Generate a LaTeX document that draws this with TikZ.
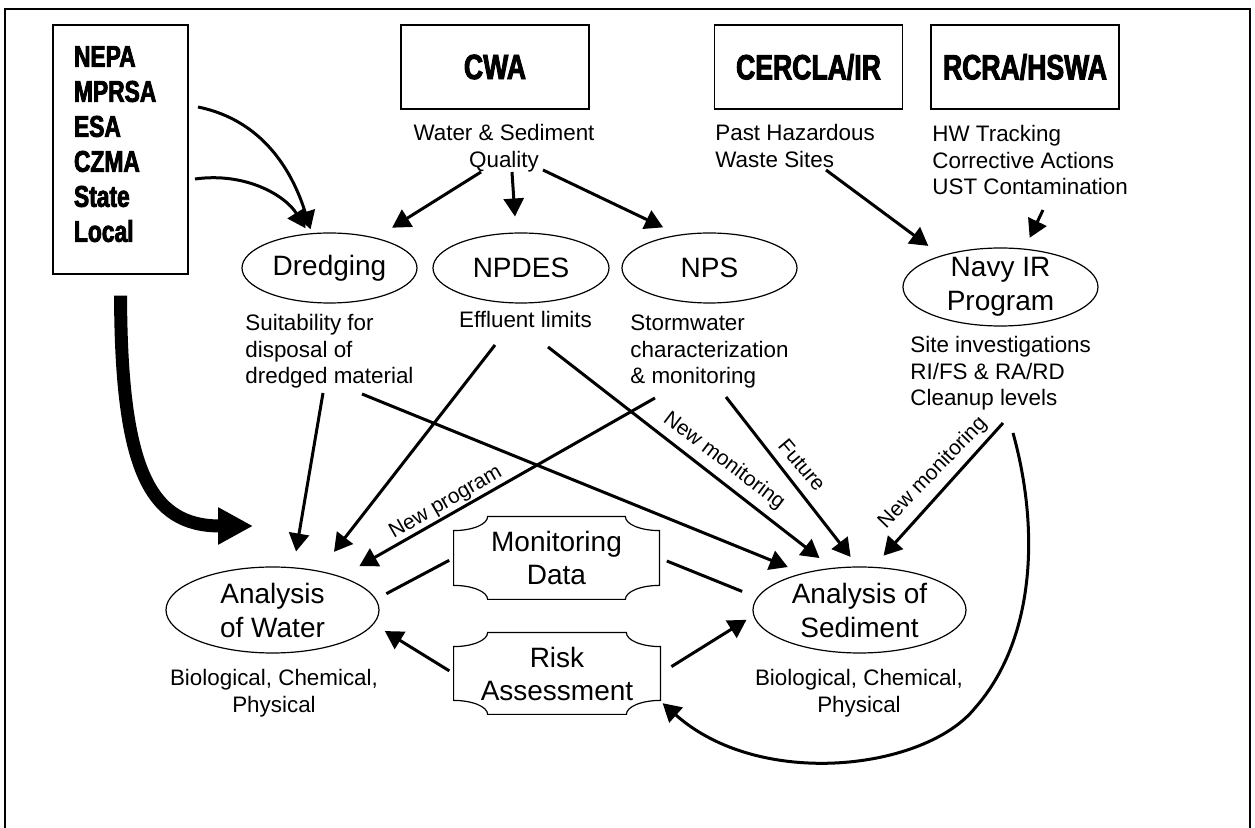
\documentclass[tikz,border=0pt]{standalone}
\usepackage{fontspec}
\setmainfont{Liberation Sans}
\newfontfamily\hfont[FakeStretch=0.76,FakeBold=2.6]{Liberation Sans}
\usetikzlibrary{arrows.meta,shapes.geometric}
\newcommand\fs{\rule{0pt}{8.2pt}}
\newcommand\cutframe[1]{\draw[line width=0.6pt] ([yshift=-7pt]#1.north west) arc[start angle=-90,end angle=0,x radius=17pt,y radius=7pt] -- ([xshift=-17pt]#1.north east) arc[start angle=180,end angle=270,x radius=17pt,y radius=7pt] -- ([yshift=7pt]#1.south east) arc[start angle=90,end angle=180,x radius=17pt,y radius=7pt] -- ([xshift=17pt]#1.south west) arc[start angle=0,end angle=90,x radius=17pt,y radius=7pt] -- cycle;}
\begin{document}
\begin{tikzpicture}[x=0.5pt,y=-0.5pt,
  arr/.style={line width=1.5pt,-{Triangle[length=9pt,width=10pt]}},
  plain/.style={line width=1.5pt},
  hbox/.style={draw,line width=0.6pt,minimum width=94pt,minimum height=42pt,inner sep=0pt,font=\hfont\bfseries\fontsize{17.5}{21}\selectfont},
  ell/.style={draw,ellipse,line width=0.6pt,inner sep=0pt,align=center,font=\fontsize{14}{17}\selectfont},
  txt/.style={inner sep=0pt,font=\fontsize{11.2}{13.4}\selectfont},
  lab/.style={inner sep=0pt,font=\fontsize{10.5}{12}\selectfont},
  cut/.style={inner sep=0pt,minimum width=102.5pt,minimum height=41pt,align=center,font=\fontsize{14}{16.5}\selectfont}
]
\useasboundingbox (0,0) rectangle (1255,828);
\draw[line width=1.25pt] (5,832) -- (5,9) -- (1250,9) -- (1250,832);

% boxes
\node[draw,line width=0.6pt,inner xsep=10.5pt,inner ysep=0pt,text width=46.5pt,minimum height=124.5pt,align=left,font=\hfont\bfseries\fontsize{15}{17.5}\selectfont] (acts) at (120.5,149.5) {NEPA\\MPRSA\\ESA\\CZMA\\State\\Local\rule[-5.5pt]{0pt}{5.5pt}};
\node[hbox] (cwa) at (495,67) {CWA};
\node[hbox] (cercla) at (808.5,67) {CERCLA/IR};
\node[hbox] (rcra) at (1025,67) {RCRA/HSWA};

% texts
\node[txt,anchor=north,align=center] (cwatxt) at (504,123.6) {\fs Water \& Sediment\\Quality};
\node[txt,anchor=north west,align=left] (cerctxt) at (715,123.6) {\fs Past Hazardous\\Waste Sites};
\node[txt,anchor=north west,align=left] (rcratxt) at (932,124.6) {\fs HW Tracking\\Corrective Actions\\UST Contamination};
\node[txt,anchor=north west,align=left] (dredtxt) at (245,313.6) {\fs Suitability for\\disposal of\\dredged material};
\node[txt,anchor=north] (npdestxt) at (525.5,311) {\fs Effluent limits};
\node[txt,anchor=north west,align=left] (npstxt) at (630,313.6) {\fs Stormwater\\characterization\\\& monitoring};
\node[txt,anchor=north west,align=left] (navytxt) at (910,335.6) {\fs Site investigations\\RI/FS \& RA/RD\\Cleanup levels};
\node[txt,anchor=north,align=center] (watertxt) at (274,668.6) {\fs Biological, Chemical,\\Physical};
\node[txt,anchor=north,align=center] (sedtxt) at (859,668.6) {\fs Biological, Chemical,\\Physical};

% ellipses
\node[ell,minimum width=87.5pt,minimum height=35pt] (dredge) at (329.5,268) {Dredging};
\node[ell,minimum width=88pt,minimum height=35pt] (npdes) at (521,268) {NPDES};
\node[ell,minimum width=87.5pt,minimum height=35pt] (nps) at (709.5,268) {NPS};
\node[ell,minimum width=97.5pt,minimum height=39pt,inner sep=-1.5pt] (navy) at (1000.5,287) {Navy IR\\Program};
\node[ell,minimum width=106.5pt,minimum height=43pt] (water) at (272.5,610) {Analysis\\of Water};
\node[ell,minimum width=106.5pt,minimum height=43pt] (sed) at (859.5,610) {Analysis of\\Sediment};

% cut-corner boxes
\node[cut] (mon) at (556.5,558) {Monitoring\\Data};
\cutframe{mon}
\node[cut,minimum width=103pt,minimum height=40.5pt] (risk) at (557,673.5) {Risk\\Assessment};
\cutframe{risk}

% free ends
\coordinate (a1) at (198,107);
\coordinate (a2) at (195,179);
\coordinate (q1) at (481,172);
\coordinate (q2) at (512,172);
\coordinate (q3) at (543,170);
\coordinate (p1) at (826,170);
\coordinate (u1) at (1043,210);
\coordinate (d1) at (323,393);
\coordinate (d2) at (362,394);
\coordinate (e1) at (495,345);
\coordinate (e2) at (548,347);
\coordinate (s1) at (655,398);
\coordinate (s2) at (726,397);
\coordinate (v1) at (1003,423);
\coordinate (v2) at (1013,433);
\coordinate (bigtip) at (253,526);

% connectors
\draw[arr,shorten >=2pt] (a1) .. controls (262,120) and (292,170) .. (dredge.117);
\draw[arr,shorten >=3pt] (a2) .. controls (245,172) and (285,195) .. (dredge.121);
\draw[arr,shorten >=9.5pt] (q1) -- (dredge.33);
\draw[arr,shorten >=8pt] (q2) -- (npdes.98);
\draw[arr,shorten >=8.5pt] (q3) -- (nps.133);
\draw[arr,shorten >=8pt] (p1) -- (navy.152);
\draw[arr,shorten >=6pt] (u1) -- (navy.58);
\draw[arr,shorten >=8pt] (d1) -- (water.64);
\draw[arr,shorten >=8pt] (d2) -- (sed.147);
\draw[arr,shorten >=12pt] (e1) -- (water.40);
\draw[arr,shorten >=8pt] (e2) -- (sed.123);
\draw[arr,shorten >=10.5pt] (s1) -- (water.26);
\draw[arr,shorten >=6pt] (s2) -- (sed.92);
\draw[arr,shorten >=7.5pt] (v1) -- (sed.72);
\draw[arr,shorten >=1.5pt] (v2) .. controls (1040,530) and (1035,640) .. (975,708) .. controls (925,770) and (760,790) .. (risk.-15);
\draw[plain,shorten <=2.5pt,shorten >=5.75pt] (mon.west) -- (water.6);
\draw[plain,shorten <=4pt,shorten >=8pt] (mon.east) -- (sed.173);
\draw[arr,shorten <=2.5pt,shorten >=6.5pt] (risk.west) -- (water.-8);
\draw[arr,shorten <=6.5pt,shorten >=4pt] (risk.east) -- (sed.183);
\draw[line width=6.5pt,-{Triangle[length=17.5pt,width=17.5pt]},shorten <=10.5pt] (acts.south) .. controls (121,470) and (150,526) .. (bigtip);

% connector labels
\node[lab,rotate=30] (lnp) at (446,503) {New program};
\node[lab,rotate=-37] (lnm1) at (724,461) {New monitoring};
\node[lab,rotate=-50] (lfut) at (802,465) {Future};
\node[lab,rotate=46] (lnm2) at (933,473) {New monitoring};
\end{tikzpicture}
\end{document}
